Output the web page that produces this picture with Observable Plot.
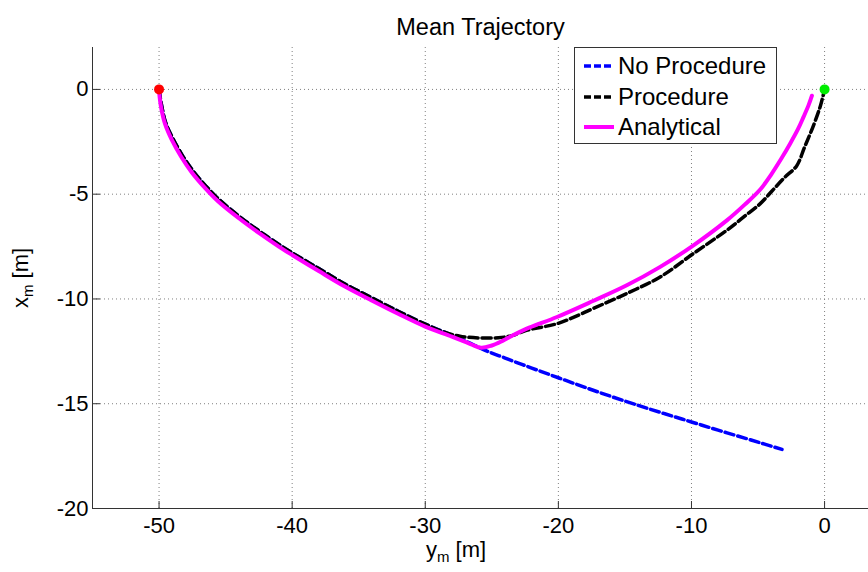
<!DOCTYPE html>
<html><head><meta charset="utf-8">
<script src="https://cdn.jsdelivr.net/npm/d3@7"></script>
<script src="https://cdn.jsdelivr.net/npm/@observablehq/plot@0.6"></script>
<style>
html,body{margin:0;padding:0;background:#fff;overflow:hidden}
#wrap{position:relative;width:868px;height:572px;font-family:"Liberation Sans",Arial,sans-serif}
</style></head><body><div id="wrap"></div>
<script>
// ---- data ----
const title = "Mean Trajectory";
const xLabelParts = ["y", "m", " [m]"];
const yLabelParts = ["x", "m", " [m]"];
const xTicks = [-50, -40, -30, -20, -10, 0];
const yTicks = [0, -5, -10, -15, -20];
const xDomain = [-55, 3.3];
const yDomain = [-20, 2];
const seriesNames = ["No Procedure", "Procedure", "Analytical"];
const seriesColors = ["#0000ff", "#000000", "#ff00ff"];

const sharedX = [-50, -49.8, -49.5, -49.0, -48.3, -47.5, -46.5, -45.5, -44, -42.5, -41, -40, -38, -36, -34, -32, -30, -28.5];
const sharedY = [0, -0.8, -1.6, -2.3, -3.1, -3.85, -4.6, -5.25, -6.05, -6.75, -7.4, -7.8, -8.55, -9.3, -9.95, -10.6, -11.2, -11.6];

const noProcTailX = [-27, -25.5, -24, -22, -20, -18, -16, -14, -12, -10, -8, -6, -4.5, -3.2];
const noProcTailY = [-12.0, -12.45, -12.82, -13.3, -13.76, -14.22, -14.66, -15.08, -15.48, -15.87, -16.26, -16.64, -16.93, -17.18];

const procTailX = [-27.4, -26, -24.5, -23.5, -22.4, -20.1, -18.4, -17.4, -14.86, -12.35, -9.85, -7.34, -6.0, -4.83, -3.95, -3.0, -2.1, -1.5, -0.85, -0.32, 0];
const procTailY = [-11.78, -11.86, -11.85, -11.75, -11.5, -11.18, -10.75, -10.46, -9.74, -8.95, -7.83, -6.72, -6.05, -5.45, -4.85, -4.2, -3.65, -2.75, -1.75, -0.8, 0];

const analyticX = [-50, -49.85, -49.55, -49.05, -48.35, -47.55, -46.55, -45.55, -44, -42.5, -41, -40, -38, -36, -34, -32, -30, -28, -26.6, -25.8, -25.0, -24.2, -23.3, -22.2, -20.1, -17.4, -14.86, -12.35, -9.85, -7.34, -6.0, -4.8, -4.0, -3.2, -2.58, -2.0, -1.58, -1.2, -0.95];
const analyticY = [-0.1, -0.85, -1.65, -2.4, -3.2, -3.95, -4.7, -5.35, -6.15, -6.85, -7.5, -7.9, -8.67, -9.42, -10.08, -10.72, -11.32, -11.8, -12.15, -12.33, -12.22, -12.0, -11.7, -11.37, -10.86, -10.1, -9.35, -8.47, -7.44, -6.25, -5.5, -4.75, -4.05, -3.25, -2.58, -1.9, -1.31, -0.75, -0.3];

const startPoint = {x: -50, y: 0};
const endPoint = {x: 0, y: 0};

// ---- build tables ----
const zip = (xs, ys) => xs.map((x, i) => ({x, y: ys[i]}));
const noProc = zip(sharedX.concat(noProcTailX), sharedY.concat(noProcTailY));
const proc = zip(sharedX.concat(procTailX), sharedY.concat(procTailY));
const analytic = zip(analyticX, analyticY);

const W = 868, H = 572, mL = 92, mR = 0, mT = 47, mB = 64;
const font = '"Liberation Sans", Arial, sans-serif';
const axisColor = "#333";
const gridStyle = {stroke: "#808080", strokeOpacity: 1, strokeDasharray: "1,3", strokeWidth: 1};
const dash = "9,4";
const fmt = d => String(d);

const chart = Plot.plot({
  width: W, height: H,
  marginLeft: mL, marginRight: mR, marginTop: mT, marginBottom: mB,
  style: {fontFamily: font, background: "#fff", overflow: "visible"},
  x: {domain: xDomain, label: null},
  y: {domain: yDomain, label: null},
  marks: [
    Plot.gridX(xTicks, gridStyle),
    Plot.gridY(yTicks, gridStyle),
    Plot.ruleX(xTicks, {insetTop: H - mT - mB - 7, stroke: axisColor}),
    Plot.ruleY(yTicks, {insetRight: W - mL - mR - 8, stroke: axisColor}),
    Plot.ruleX([xDomain[0]], {stroke: axisColor}),
    Plot.ruleY([yDomain[0]], {stroke: axisColor}),
    Plot.axisX(xTicks, {tickSize: 0, tickPadding: 9, fontSize: 22, fill: "#000", tickFormat: fmt}),
    Plot.axisY(yTicks, {tickSize: 0, tickPadding: 4, fontSize: 22, fill: "#000", tickFormat: fmt}),
    Plot.line(noProc, {x: "x", y: "y", stroke: seriesColors[0], strokeWidth: 3.5, strokeDasharray: dash, curve: "catmull-rom"}),
    Plot.line(proc, {x: "x", y: "y", stroke: seriesColors[1], strokeWidth: 3.5, strokeDasharray: dash, curve: "catmull-rom"}),
    Plot.line(analytic, {x: "x", y: "y", stroke: seriesColors[2], strokeWidth: 4, curve: "catmull-rom"}),
    Plot.dot([startPoint], {x: "x", y: "y", r: 5, fill: "#ff0000", stroke: "none"}),
    Plot.dot([endPoint], {x: "x", y: "y", r: 5, fill: "#00ee00", stroke: "none"}),
    Plot.text([title], {frameAnchor: "top", dy: -29, fontSize: 23.5, fill: "#000"})
  ]
});
document.getElementById("wrap").appendChild(chart);

// axis labels with subscripts
const svg = d3.select(chart);
function addLabel(parts, attrs) {
  const t = svg.append("text").attr("font-family", font).attr("font-size", 22).attr("fill", "#000").attr("text-anchor", "middle");
  for (const [k, v] of Object.entries(attrs)) t.attr(k, v);
  t.append("tspan").text(parts[0]);
  t.append("tspan").attr("font-size", 15).attr("dy", 5).text(parts[1]);
  t.append("tspan").attr("dy", -5).text(parts[2]);
}
addLabel(xLabelParts, {x: 456, y: 557});
addLabel(yLabelParts, {transform: "translate(28,278) rotate(-90)"});

// legend
const lg = d3.select("#wrap").append("div")
  .style("position", "absolute").style("left", "574px").style("top", "47px")
  .style("width", "201px").style("height", "95px")
  .style("border", "1px solid #333").style("background", "#fff");
seriesNames.forEach((name, i) => {
  const row = lg.append("div").style("position", "absolute").style("left", "0px")
    .style("top", (3 + i * 30.5) + "px").style("height", "30px").style("width", "200px");
  const s = row.append("svg").attr("width", 40).attr("height", 30).style("position", "absolute").style("left", "0px").style("top", "0px");
  s.append("line").attr("x1", 9).attr("x2", 39).attr("y1", 15).attr("y2", 15)
    .attr("stroke", seriesColors[i]).attr("stroke-width", i === 2 ? 4 : 3.5)
    .attr("stroke-dasharray", i === 2 ? null : "7,3");
  row.append("span").text(name).style("position", "absolute").style("left", "43px").style("top", "0px")
    .style("font-size", "24px").style("line-height", "30px").style("color", "#000").style("white-space", "nowrap");
});
</script></body></html>
